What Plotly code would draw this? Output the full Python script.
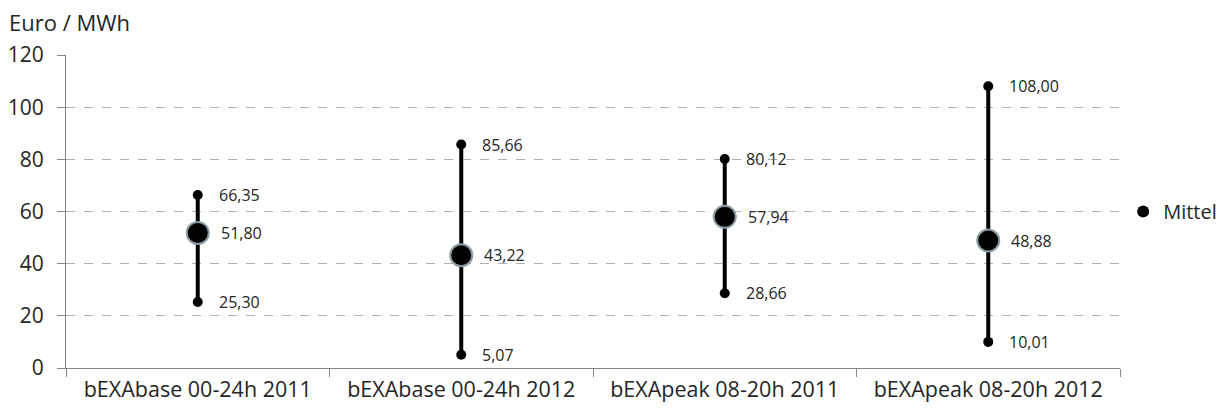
import plotly.graph_objects as go

categories = ["bEXAbase 00-24h 2011", "bEXAbase 00-24h 2012", "bEXApeak 08-20h 2011", "bEXApeak 08-20h 2012"]
min_vals = [25.30, 5.07, 28.66, 10.01]
mean_vals = [51.80, 43.22, 57.94, 48.88]
max_vals = [66.35, 85.66, 80.12, 108.00]
y_ticks = [0, 20, 40, 60, 80, 100, 120]

xs = list(range(len(categories)))
FONT = "Open Sans"
TXT = "#262626"

def fmt(v):
    return f"{v:.2f}".replace(".", ",")

fig = go.Figure()

# vertical range lines
lx, ly = [], []
for i in xs:
    lx += [i, i, None]
    ly += [min_vals[i], max_vals[i], None]
fig.add_trace(go.Scatter(x=lx, y=ly, mode="lines", line=dict(color="black", width=4),
                         showlegend=False, hoverinfo="skip"))
# min / max end points
fig.add_trace(go.Scatter(x=xs + xs, y=min_vals + max_vals, mode="markers",
                         marker=dict(color="black", size=10), showlegend=False))
# mean
fig.add_trace(go.Scatter(x=xs, y=mean_vals, mode="markers", name="Mittel", legendgroup="m",
                         showlegend=False,
                         marker=dict(color="black", size=22, line=dict(color="#8c9ca4", width=2))))
# legend entry
fig.add_trace(go.Scatter(x=[None], y=[None], mode="markers", name="Mittel", legendgroup="m",
                         marker=dict(color="black", size=12)))

for i in xs:
    for v, sh in ((max_vals[i], 19), (min_vals[i], 19), (mean_vals[i], 21)):
        fig.add_annotation(x=i, y=v, text=fmt(v), showarrow=False, xanchor="left",
                           xshift=sh, yshift=0, font=dict(family=FONT, size=16, color=TXT))

fig.add_annotation(xref="paper", yref="paper", x=-0.055, y=1.105, xanchor="left", yanchor="middle",
                   text="Euro / MWh", showarrow=False, borderpad=0,
                   font=dict(family=FONT, size=22, color=TXT))

fig.update_layout(
    width=1214, height=396,
    margin=dict(l=58, r=102, t=47, b=36, autoexpand=False),
    plot_bgcolor="white", paper_bgcolor="white",
    font=dict(family=FONT, size=21, color=TXT),
    legend=dict(x=1.003, y=0.5, xanchor="left", yanchor="middle", font=dict(size=20)),
    xaxis=dict(range=[-0.5, len(categories) - 0.5], tickmode="array", tickvals=xs, ticktext=categories,
               ticks="", showgrid=False, zeroline=False, showline=True, linecolor="#868686", linewidth=1,
               automargin=False, tickfont=dict(size=21.5),
               minor=dict(tickmode="array", tickvals=[i - 0.5 for i in range(len(categories) + 1)],
                          ticks="outside", ticklen=8, tickcolor="#868686", showgrid=False),
               ticklabelstandoff=2),
    yaxis=dict(range=[0, 120], tickmode="array", tickvals=y_ticks, ticks="outside", ticklen=8,
               tickcolor="#868686", showline=True, linecolor="#868686", linewidth=1, automargin=False,
               showgrid=True, gridcolor="#b0b0b0", griddash="dash", gridwidth=1, zeroline=False,
               tickfont=dict(size=21), ticklabelstandoff=9),
)

fig.write_html("out.html")
